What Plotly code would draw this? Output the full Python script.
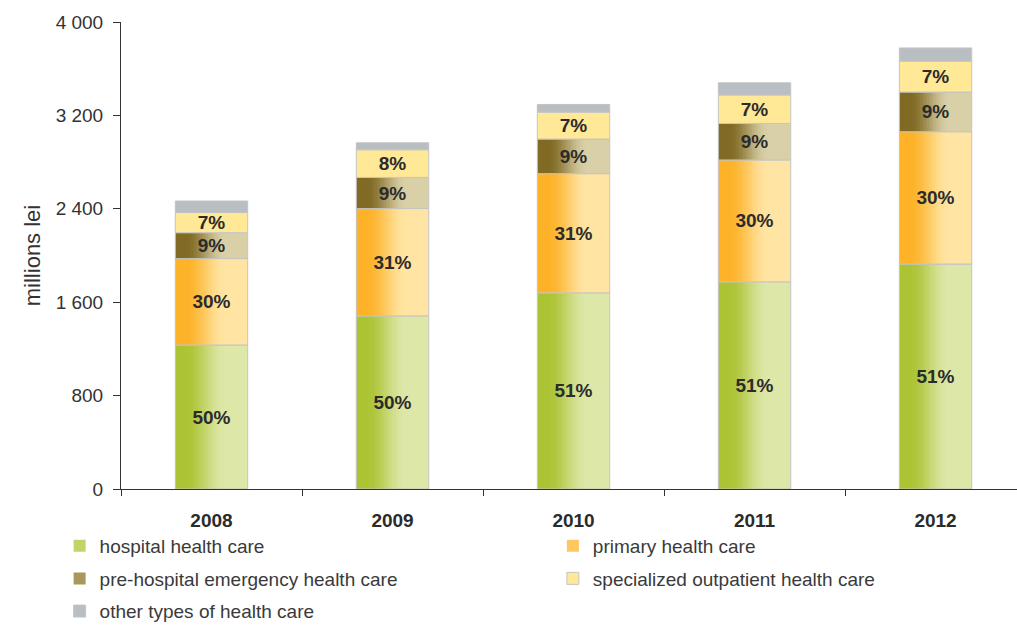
import plotly.graph_objects as go

# Public health care spending by type of care (millions lei)
years = ["2008", "2009", "2010", "2011", "2012"]
totals = [2466.7, 2965.3, 3293.9, 3479.3, 3777.8]

# Shares of the yearly total, in percent
share_hospital = [50, 50, 51, 51, 51]
share_primary = [30, 31, 31, 30, 30]
share_prehospital = [9, 9, 9, 9, 9]
share_specialized = [7, 8, 7, 7, 7]
share_other = [4, 2, 2, 3, 3]

series_names = [
    "hospital health care",
    "primary health care",
    "pre-hospital emergency health care",
    "specialized outpatient health care",
    "other types of health care",
]
series_shares = [share_hospital, share_primary, share_prehospital,
                 share_specialized, share_other]
show_pct = [True, True, True, True, False]

# Horizontal gradient colours (left, right) for each series
grad_left = [(172, 196, 52), (253, 178, 40), (128, 106, 36), (255, 232, 150), (185, 190, 195)]
grad_right = [(221, 231, 168), (255, 228, 163), (217, 208, 168), (255, 232, 150), (185, 190, 195)]
legend_of = ["legend", "legend2", "legend", "legend2", "legend"]

FONT = "Liberation Sans, Arial, sans-serif"
TXT = "#2b2b2b"
BAR_W = 0.4
N_STRIPS = 24
EDGE = "#c4c4c4"


def mix(c1, c2, t):
    return "rgb(%d,%d,%d)" % tuple(round(a + (b - a) * t) for a, b in zip(c1, c2))


def ramp(t):
    # dark on the left, easing to light towards the right
    s = min(max((t - 0.14) / 0.55, 0.0), 1.0)
    return s * s * (3 - 2 * s)


fig = go.Figure()

bases = [0.0] * len(years)
for i, name in enumerate(series_names):
    values = [tot * sh / 100.0 for tot, sh in zip(totals, series_shares[i])]
    gradient = grad_left[i] != grad_right[i]
    if gradient:
        step = BAR_W / N_STRIPS
        for k in range(N_STRIPS):
            off = -BAR_W / 2 + k * step
            w = min(step * 1.6, BAR_W / 2 - off)
            t = (k + 0.5) / N_STRIPS
            is_legend = k == 9
            fig.add_trace(go.Bar(
                x=years, y=values, base=bases[:],
                width=[w] * len(years), offset=[off] * len(years),
                marker=dict(color=mix(grad_left[i], grad_right[i], ramp(t)), line=dict(width=0)),
                name=name, showlegend=is_legend, legend=legend_of[i],
                legendgroup=name, hoverinfo="skip",
            ))
    # full segment: outline, label (and fill for plain series)
    fig.add_trace(go.Bar(
        x=years, y=values, base=bases[:],
        width=[BAR_W] * len(years), offset=[-BAR_W / 2] * len(years),
        marker=dict(color="rgba(0,0,0,0)" if gradient else mix(grad_left[i], grad_right[i], 0),
                    line=dict(width=1, color=EDGE)),
        text=[f"{s}%" for s in series_shares[i]] if show_pct[i] else None,
        textposition="inside", insidetextanchor="middle",
        textfont=dict(family=FONT, size=19, color=TXT, weight="bold"),
        name=name, showlegend=not gradient, legend=legend_of[i],
        legendgroup=name,
    ))
    bases = [b + v for b, v in zip(bases, values)]

# Totals above the bars
for yr, tot in zip(years, totals):
    fig.add_annotation(
        x=yr, y=tot, yanchor="bottom", yshift=8, showarrow=False,
        text=f"{tot:,.1f}".replace(",", " "),
        font=dict(family=FONT, size=19, color=TXT, weight="bold"),
    )

legend_common = dict(
    font=dict(family=FONT, size=19, color="#3a3a3a"),
    bgcolor="rgba(0,0,0,0)", borderwidth=0, orientation="v",
    xanchor="left", yanchor="top", tracegroupgap=5, itemwidth=30,
)

fig.update_layout(
    width=1017, height=626,
    margin=dict(l=121, r=0, t=22, b=137, autoexpand=False),
    paper_bgcolor="white", plot_bgcolor="white",
    barmode="overlay",
    separators=". ",
    uniformtext=dict(minsize=19, mode="show"),
    font=dict(family=FONT, size=19, color=TXT),
    legend=dict(x=-0.0685, y=-0.081, **legend_common),
    legend2=dict(x=0.482, y=-0.081, **legend_common),
    xaxis=dict(
        type="category", range=[-0.5, 4.45],
        tickson="boundaries", ticks="outside", ticklen=6, tickcolor="#333",
        showline=True, linecolor="#333", linewidth=1, showgrid=False,
        tickfont=dict(family=FONT, size=19, color=TXT, weight="bold"),
        ticklabelstandoff=14,
    ),
    yaxis=dict(
        range=[0, 4000], tickvals=[0, 800, 1600, 2400, 3200, 4000],
        tickformat=",d", ticks="outside", ticklen=7, tickcolor="#333",
        showline=True, linecolor="#333", linewidth=1, showgrid=False, zeroline=False,
        tickfont=dict(family=FONT, size=19, color="#333"),
        ticklabelstandoff=6,
        title=dict(text="millions lei", font=dict(family=FONT, size=22, color="#333"), standoff=8),
    ),
)

fig.write_html("out.html", config={"displayModeBar": False})
